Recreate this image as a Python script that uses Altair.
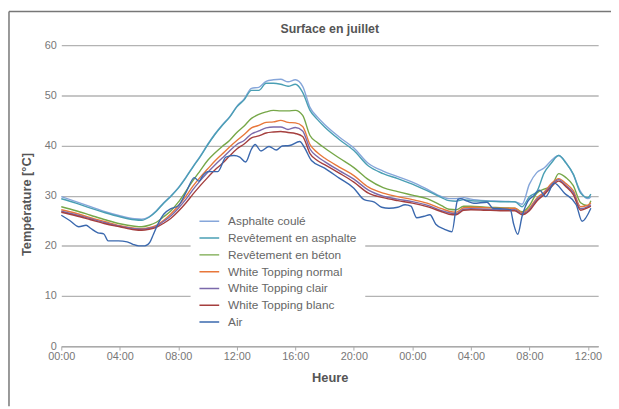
import altair as alt
import pandas as pd

# ---- data ----
hours = [0, 1, 2, 3, 4, 5,
         5.5, 6, 6.5, 7, 7.5, 8, 8.5, 9, 9.5, 10, 10.5, 11, 11.5, 12, 12.5, 13, 13.5,
         14, 14.5, 15, 15.5, 16, 16.5, 17, 17.5, 18,
         19, 20, 21, 22, 23, 24, 25, 26,
         26.5, 27, 27.5, 28,
         29, 30, 31,
         31.5, 32, 32.5, 33, 33.5, 34, 34.5, 35, 35.5, 36,
         36.2]

asphalte_coule = [29.8, 28.8, 27.8, 26.8, 26.0, 25.4,
                  25.3, 25.8, 27.0, 28.6, 30.0, 31.6, 33.6, 35.8, 37.9, 40.2, 42.3, 44.1, 45.7, 47.8, 49.3, 51.4, 51.6,
                  52.8, 53.1, 53.2, 52.7, 53.1, 51.8, 47.6, 45.7, 44.2,
                  41.7, 39.5, 36.4, 34.9, 33.8, 32.7, 31.3, 29.8,
                  29.4, 29.4, 29.6, 29.3,
                  29.0, 28.9, 28.8,
                  28.3, 32.3, 34.6, 35.5, 37.0, 38.0, 36.6, 34.2, 30.8, 29.4,
                  29.8]

revetement_asphalte = [29.4, 28.5, 27.5, 26.6, 25.8, 25.2,
                       25.1, 25.7, 26.9, 28.5, 29.9, 31.5, 33.5, 35.7, 37.8, 40.1, 42.2, 44.0, 45.6, 47.7, 49.1, 51.0, 51.0,
                       52.4, 52.4, 52.2, 51.8, 52.2, 50.6, 47.0, 45.2, 43.7,
                       41.2, 39.0, 35.9, 34.4, 33.4, 32.3, 31.0, 29.6,
                       29.0, 28.9, 29.2, 29.0,
                       28.9, 28.8, 28.8,
                       27.8, 29.8, 30.8, 34.5, 36.5, 38.0, 36.5, 34.3, 30.5, 29.6,
                       30.3]

revetement_beton = [27.8, 27.0, 26.1, 25.2, 24.4, 23.9,
                    23.8, 24.1, 24.7, 25.8, 27.0, 28.7, 30.8, 33.0, 35.0, 37.0, 38.5, 39.8, 41.0, 42.6, 43.9, 45.4, 46.2,
                    46.7, 47.0, 46.9, 46.9, 47.0, 46.0, 42.0, 40.6, 39.5,
                    37.5, 35.6, 33.2, 31.6, 30.8, 30.1, 29.4, 28.0,
                    27.3, 27.2, 27.9, 27.9,
                    27.7, 27.6, 27.5,
                    26.8, 28.0, 30.5, 31.3, 31.8, 34.4, 33.6, 32.0, 28.6, 28.0,
                    29.0]

wt_normal = [27.2, 26.5, 25.6, 24.8, 24.0, 23.5,
             23.4, 23.6, 24.1, 25.1, 26.4, 28.0, 29.8, 31.9, 33.7, 35.3, 36.9, 38.3, 39.7, 41.0, 42.2, 43.5, 44.0,
             44.6, 44.7, 45.0, 44.6, 44.5, 43.8, 40.2, 38.6, 37.5,
             35.7, 34.0, 31.7, 30.5, 29.8, 29.2, 28.5, 27.4,
             26.9, 26.7, 27.6, 27.7,
             27.6, 27.5, 27.5,
             26.6, 27.5, 29.5, 30.7, 32.4, 33.4, 32.4, 31.0, 27.8, 28.1,
             28.6]

wt_clair = [26.9, 26.2, 25.4, 24.6, 23.9, 23.4,
            23.3, 23.5, 23.9, 24.9, 26.0, 27.5, 29.2, 31.2, 33.0, 34.6, 36.1, 37.5, 38.9, 40.2, 41.0, 42.3, 42.9,
            43.5, 43.7, 43.7, 43.2, 43.6, 42.9, 39.3, 37.8, 36.8,
            35.0, 33.3, 31.1, 29.9, 29.3, 28.8, 28.1, 27.0,
            26.6, 26.4, 27.3, 27.4,
            27.3, 27.2, 27.2,
            26.4, 27.2, 29.2, 30.4, 32.1, 33.2, 32.0, 30.6, 27.4, 27.8,
            28.2]

wt_blanc = [26.7, 26.0, 25.2, 24.4, 23.8, 23.2,
            23.1, 23.3, 23.7, 24.5, 25.5, 26.9, 28.5, 30.3, 32.0, 33.6, 35.1, 36.4, 37.9, 39.3, 40.3, 41.5, 41.9,
            42.5, 42.7, 42.8, 42.6, 42.4, 41.8, 38.4, 37.0, 36.2,
            34.5, 32.7, 30.5, 29.6, 29.0, 28.5, 27.8, 26.8,
            26.3, 26.2, 27.1, 27.2,
            27.1, 27.0, 27.0,
            26.2, 27.0, 28.9, 30.2, 31.8, 32.9, 31.8, 30.2, 27.1, 27.6,
            27.9]

air_hours = [0, 0.6, 1.2, 1.7, 2.0, 2.5, 2.9, 3.2, 3.9, 4.5, 4.9, 5.3, 5.7, 6.05, 6.3, 6.6, 7.0, 7.5,
             8.0, 8.5, 9.1, 9.4, 9.7, 10.0, 10.7, 11.25, 11.8, 12.2, 12.6, 13.0, 13.25, 13.65, 14.2, 14.7,
             15.1, 15.6, 16.3, 16.6, 17.1, 18.0, 19.0, 20.0, 20.7, 21.4, 21.9, 22.4, 23.0, 23.5, 23.9,
             24.3, 24.8, 25.2, 25.6, 26.2, 26.7, 27.1, 27.3, 27.75, 28.2, 29.1, 29.5, 30.0, 30.7, 30.9,
             31.2, 31.5, 31.9, 32.3, 32.7, 33.1, 33.7, 34.4, 35.2, 35.6, 36.2]
air = [26.1, 25.0, 23.8, 24.1, 23.5, 22.6, 22.4, 21.0, 21.0, 20.8, 20.3, 20.0, 20.0, 20.7, 22.3, 24.3, 26.3, 27.4,
       28.0, 30.5, 33.6, 32.9, 34.1, 34.8, 34.8, 37.7, 38.0, 37.7, 36.7, 39.3, 40.2, 38.9, 39.8, 39.1,
       39.9, 40.0, 40.8, 39.7, 37.0, 35.5, 33.5, 31.5, 29.2, 28.7, 27.7, 27.5, 27.7, 28.2, 27.9,
       25.6, 25.9, 26.2, 24.3, 23.3, 22.8, 29.2, 29.4, 28.9, 28.5, 28.7, 27.5, 27.4, 27.2, 24.6,
       22.3, 25.9, 28.9, 30.0, 31.1, 29.8, 32.5, 30.5, 28.2, 24.9, 27.5]

series_names = ["Asphalte coulé", "Revêtement en asphalte", "Revêtement en béton",
                "White Topping normal", "White Topping clair", "White Topping blanc", "Air"]
series_colors = ["#86A6DA", "#4A9FB4", "#76A748", "#E8773A", "#7B69AB", "#A53F3E", "#3A68AE"]
x_ticks = [0, 4, 8, 12, 16, 20, 24, 28, 32, 36]
y_ticks = [0, 10, 20, 30, 40, 50, 60]

# ---- table ----
rows = []
surface_values = [asphalte_coule, revetement_asphalte, revetement_beton, wt_normal, wt_clair, wt_blanc]
for name, vals in zip(series_names[:6], surface_values):
    for h, v in zip(hours, vals):
        rows.append({"Heure": h, "Temp": v, "Serie": name})
for h, v in zip(air_hours, air):
    rows.append({"Heure": h, "Temp": v, "Serie": "Air"})
df = pd.DataFrame(rows)

FONT = "Liberation Sans"

lines = alt.Chart(df).mark_line(strokeWidth=1.4, interpolate="monotone").encode(
    x=alt.X("Heure:Q",
            scale=alt.Scale(domain=[0, 36.7], nice=False, zero=False),
            axis=alt.Axis(values=x_ticks,
                          labelExpr="(datum.value % 24 < 10 ? '0' : '') + (datum.value % 24) + ':00'",
                          title="Heure", grid=False, tickSize=4, tickColor="#aaaaaa",
                          domainColor="#aaaaaa", domainWidth=1.5, labelPadding=1,
                          labelFlush=False,
                          labelFontSize=11, labelColor="#777777", labelFont=FONT,
                          titleFont=FONT, titleFontSize=13, titleColor="#555555",
                          titleFontWeight="bold", titleY=32, titleBaseline="middle")),
    y=alt.Y("Temp:Q",
            scale=alt.Scale(domain=[0, 60], nice=False),
            axis=alt.Axis(values=y_ticks, title="Température [°C]", ticks=False, domain=False,
                          gridColor="#b3b3b3", gridWidth=1.3, labelPadding=5,
                          labelFontSize=11, labelColor="#777777", labelFont=FONT,
                          titleFont=FONT, titleFontSize=13, titleColor="#555555",
                          titleFontWeight="bold", titleX=-35, titleY=161, titleAngle=270,
                          titleAlign="center", titleBaseline="middle")),
    color=alt.Color("Serie:N",
                    scale=alt.Scale(domain=series_names, range=series_colors),
                    legend=alt.Legend(title=None, orient="none", legendX=131, legendY=163,
                                      symbolType="stroke", symbolSize=400, symbolStrokeWidth=1.5,
                                      labelFontSize=12, labelColor="#666666", labelFont=FONT,
                                      labelOffset=8, fillColor="white", padding=8,
                                      clipHeight=15, rowPadding=2)),
)

frame_df = pd.DataFrame({"k": [0]})
frame_top = alt.Chart(frame_df).mark_rule(color="#777777", strokeWidth=1.5).encode(
    x=alt.value(-53), x2=alt.value(557), y=alt.value(-34))
frame_left = alt.Chart(frame_df).mark_rule(color="#777777", strokeWidth=1.5).encode(
    x=alt.value(-53), y=alt.value(-34), y2=alt.value(366))

chart = alt.layer(lines, frame_top, frame_left).properties(
    width=544, height=305,
    padding={"left": 54, "top": 35, "right": 13, "bottom": 61},
    autosize=alt.AutoSizeParams(type="none"),
    title=alt.TitleParams("Surface en juillet", fontSize=12.5, font=FONT, fontWeight="bold",
                          color="#555555", anchor="middle", offset=9, frame="group", dy=34),
).configure_view(stroke=None)

chart.save("out.html", embed_options={"renderer": "svg", "actions": False})
